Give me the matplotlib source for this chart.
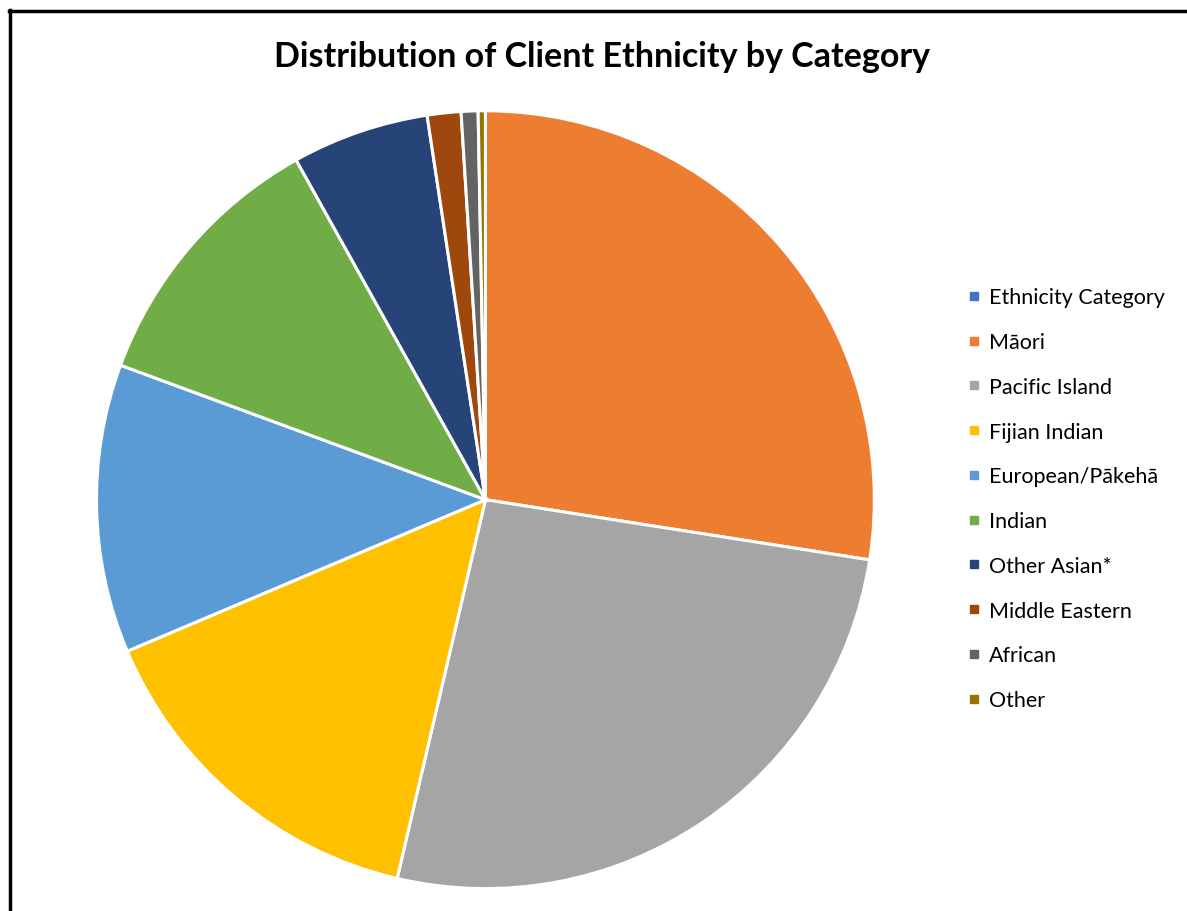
import matplotlib
matplotlib.use("Agg")
import matplotlib.pyplot as plt
from matplotlib.lines import Line2D

categories = ["Ethnicity Category", "Māori", "Pacific Island", "Fijian Indian",
              "European/Pākehā", "Indian", "Other Asian*", "Middle Eastern",
              "African", "Other"]
shares = [0.0, 27.5, 26.2, 15.0, 12.0, 11.3, 5.7, 1.4, 0.7, 0.3]
colors = ["#4472C4", "#ED7D31", "#A5A5A5", "#FFC000", "#5B9BD5",
          "#70AD47", "#264478", "#9E480E", "#636363", "#997300"]

FONT = ["Lato", "DejaVu Sans"]

fig = plt.figure(figsize=(11.87, 9.12), dpi=100, facecolor="white")

ax = fig.add_axes([0.0813, 0.0245, 0.6553, 0.853])
ax.pie(shares, colors=colors, startangle=90, counterclock=False,
       wedgeprops=dict(edgecolor="white", linewidth=2.2))
ax.set_xlim(-1, 1)
ax.set_ylim(-1, 1)
ax.set_aspect("equal")
ax.axis("off")

fig.text(0.507, 0.9375, "Distribution of Client Ethnicity by Category",
         fontsize=24.5, fontweight="bold", ha="center", va="center",
         family=FONT)

handles = [Line2D([], [], marker="s", linestyle="none", markersize=6,
                  markerfacecolor=c, markeredgecolor=c) for c in colors]
leg = fig.legend(handles, categories, loc="center left",
                 bbox_to_anchor=(0.8, 0.452), frameon=False,
                 prop={"family": FONT, "size": 15.5},
                 handlelength=0.5, handletextpad=0.45, labelspacing=1.15)

# frame lines on the top and left edges
fig.add_artist(Line2D([0.008, 1.0], [0.987, 0.987], transform=fig.transFigure,
                      color="black", linewidth=2.5))
fig.add_artist(Line2D([0.0085, 0.0085], [0.0, 0.988], transform=fig.transFigure,
                      color="black", linewidth=2.5))

fig.savefig("out.png", dpi=100, facecolor="white")
